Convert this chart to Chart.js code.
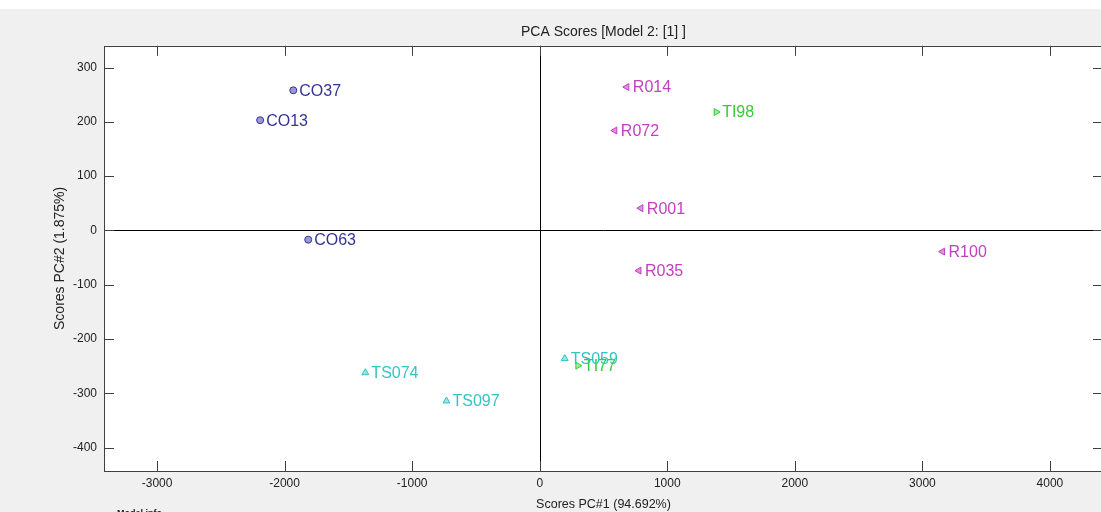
<!DOCTYPE html>
<html>
<head>
<meta charset="utf-8">
<script src="https://cdn.jsdelivr.net/npm/chart.js@4/dist/chart.umd.min.js"></script>
<style>
  html, body { margin: 0; padding: 0; overflow: hidden; background: #f0f0f0; }
  #wrap { position: relative; width: 1101px; height: 512px; overflow: hidden; background: #f0f0f0; }
  #top { position: absolute; left: 0; top: 0; width: 1101px; height: 9px; background: #fff; }
  #wrap canvas { position: absolute; left: 0; top: 0; }
</style>
</head>
<body>
<div id="wrap">
  <div id="top"></div>
  <canvas id="c" width="1108" height="512"></canvas>
</div>
<script>
// sample groups
const coNames = ["CO37", "CO13", "CO63"];
const coX = [-1932, -2192, -1815];
const coY = [258, 203, -17];

const rNames = ["R014", "R072", "R001", "R035", "R100"];
const rX = [683, 589, 793, 778, 3158];
const rY = [264, 184, 41, -74, -39];

const tiNames = ["TI98", "TI77"];
const tiX = [1383, 299];
const tiY = [218, -249];

const tsNames = ["TS074", "TS097", "TS059"];
const tsX = [-1367, -731, 196];
const tsY = [-262, -314, -236];

const xTicks = [-3000, -2000, -1000, 0, 1000, 2000, 3000, 4000];
const yTicks = [-400, -300, -200, -100, 0, 100, 200, 300];

const FONT = "'Liberation Sans', Arial, sans-serif";

function pts(xs, ys) {
  return xs.map((x, i) => ({ x: x, y: ys[i] }));
}

function group(names, xs, ys, color, fill, style, rot, radius) {
  return {
    label: names.join(","),
    names: names,
    data: pts(xs, ys),
    pointStyle: style,
    rotation: rot,
    radius: radius,
    borderWidth: 1,
    borderColor: color,
    backgroundColor: fill,
    textColor: color,
  };
}

const frame = {
  id: "frame",
  beforeDatasetsDraw(chart) {
    const { ctx, chartArea: a, scales } = chart;
    ctx.save();
    ctx.fillStyle = "#fff";
    ctx.fillRect(a.left, a.top, a.right - a.left, a.bottom - a.top);
    // zero lines
    ctx.strokeStyle = "#000";
    ctx.lineWidth = 1;
    const x0 = Math.round(scales.x.getPixelForValue(0)) + 0.5;
    const y0 = Math.round(scales.y.getPixelForValue(0)) + 0.5;
    ctx.beginPath();
    ctx.moveTo(x0, a.top); ctx.lineTo(x0, a.bottom);
    ctx.moveTo(a.left, y0); ctx.lineTo(a.right, y0);
    ctx.stroke();
    // box + inward ticks
    ctx.strokeStyle = "#404040";
    ctx.strokeRect(Math.round(a.left) + 0.5, Math.round(a.top) + 0.5,
      Math.round(a.right - a.left), Math.round(a.bottom - a.top));
    ctx.beginPath();
    xTicks.forEach(v => {
      const px = Math.round(scales.x.getPixelForValue(v)) + 0.5;
      ctx.moveTo(px, a.bottom); ctx.lineTo(px, a.bottom - 10);
      ctx.moveTo(px, a.top); ctx.lineTo(px, a.top + 10);
    });
    yTicks.forEach(v => {
      const py = Math.round(scales.y.getPixelForValue(v)) + 0.5;
      ctx.moveTo(a.left, py); ctx.lineTo(a.left + 10, py);
      ctx.moveTo(a.right, py); ctx.lineTo(a.right - 10, py);
    });
    ctx.stroke();
    ctx.restore();
  },
  afterDatasetsDraw(chart) {
    const ctx = chart.ctx;
    ctx.save();
    ctx.font = "16px " + FONT;
    ctx.textBaseline = "middle";
    ctx.textAlign = "left";
    chart.data.datasets.forEach((ds, i) => {
      const meta = chart.getDatasetMeta(i);
      ctx.fillStyle = ds.textColor;
      meta.data.forEach((el, j) => {
        ctx.fillText(ds.names[j], el.x + 6, el.y + 1);
      });
    });
    // clipped "Model info" note below the axes
    ctx.fillStyle = "#222";
    ctx.font = "bold 9px " + FONT;
    ctx.fillText("Model info", 117, 514);
    ctx.restore();
  }
};

new Chart(document.getElementById("c"), {
  type: "scatter",
  data: {
    datasets: [
      group(coNames, coX, coY, "#333399", "#9a9ad0", "circle", 0, 3.5),
      group(rNames, rX, rY, "#c040c0", "#e090e0", "triangle", -90, 4),
      group(tiNames, tiX, tiY, "#33cc33", "#99ee99", "triangle", 90, 4),
      group(tsNames, tsX, tsY, "#33c4c4", "#99e4e4", "triangle", 0, 4),
    ]
  },
  options: {
    responsive: false,
    animation: false,
    layout: { padding: { top: 0, right: 3, bottom: 0, left: 0 } },
    plugins: {
      legend: { display: false },
      tooltip: { enabled: false },
      title: {
        display: true,
        text: "PCA Scores [Model 2: [1] ]",
        fullSize: false,
        color: "#222",
        font: { family: FONT, size: 14, weight: "normal" },
        padding: { top: 24, bottom: 5 }
      }
    },
    scales: {
      x: {
        type: "linear",
        min: -3416,
        max: 4416,
        afterFit(s) { s.height = 41; },
        afterBuildTicks(s) { s.ticks = xTicks.map(v => ({ value: v })); },
        grid: { display: false, drawTicks: false },
        border: { display: false },
        ticks: {
          includeBounds: false,
          padding: 5,
          color: "#222",
          font: { family: FONT, size: 12 },
          callback: v => String(v)
        },
        title: {
          display: true,
          text: "Scores PC#1 (94.692%)",
          color: "#222",
          font: { family: FONT, size: 12.5 },
          padding: { top: 0, bottom: 0 }
        }
      },
      y: {
        type: "linear",
        min: -443,
        max: 340,
        afterFit(s) { s.width = 104; },
        afterBuildTicks(s) { s.ticks = yTicks.map(v => ({ value: v })); },
        grid: { display: false, drawTicks: false },
        border: { display: false },
        ticks: {
          includeBounds: false,
          padding: 7,
          color: "#222",
          font: { family: FONT, size: 12 },
          callback: v => String(v)
        },
        title: {
          display: true,
          text: "Scores PC#2 (1.875%)",
          color: "#222",
          font: { family: FONT, size: 14 },
          padding: { top: 52, bottom: 0 }
        }
      }
    }
  },
  plugins: [frame]
});
</script>
</body>
</html>
